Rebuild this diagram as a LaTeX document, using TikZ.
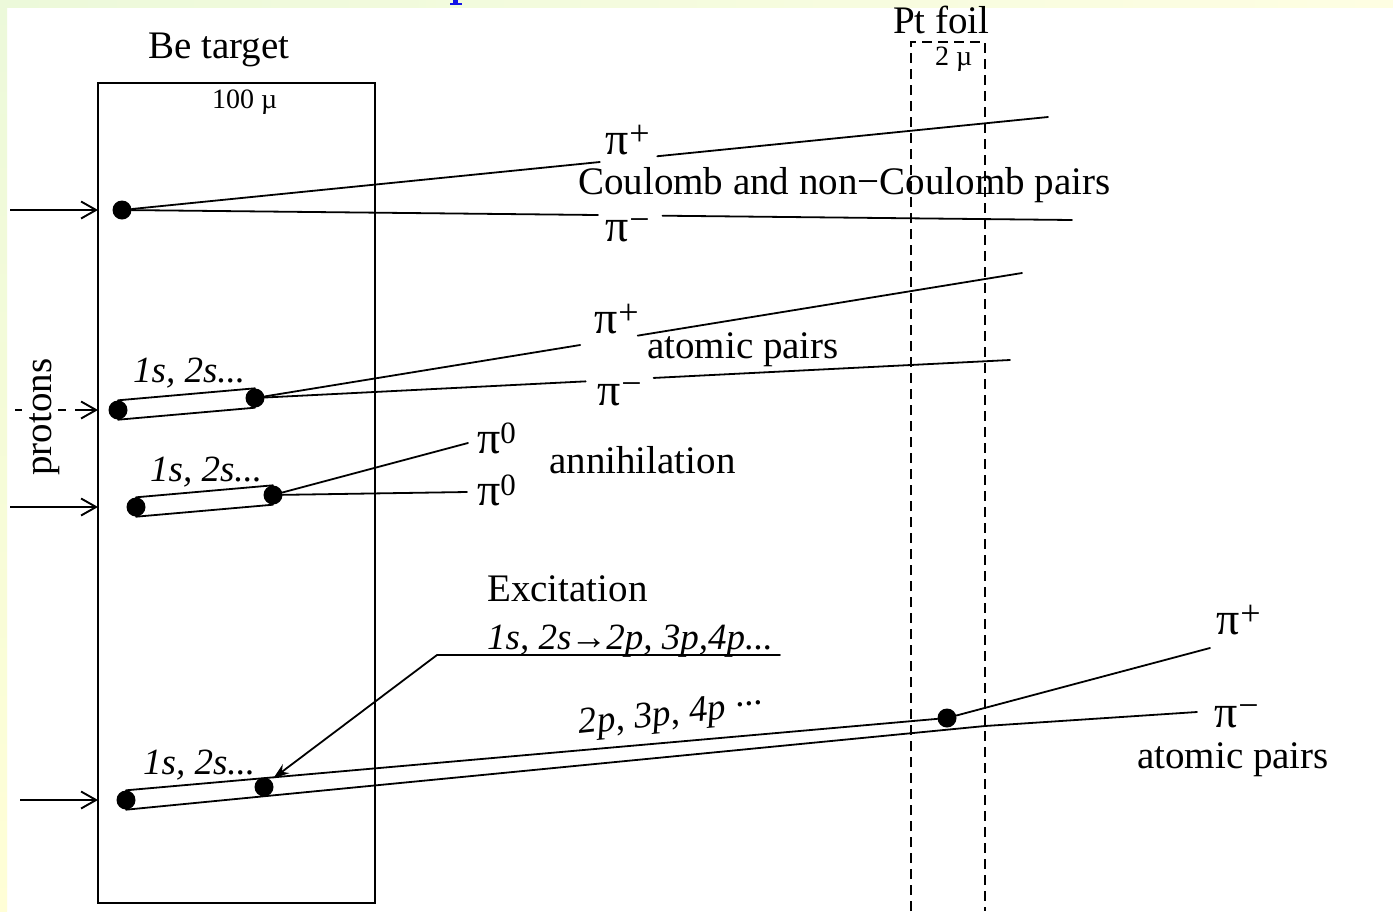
\documentclass[tikz,border=0pt]{standalone}
\usepackage{fontspec}
\setmainfont{Liberation Serif}
\usetikzlibrary{arrows.meta,calc}
\definecolor{stripG}{RGB}{236,249,218}
\definecolor{stripY}{RGB}{254,254,226}
\definecolor{stripY2}{RGB}{255,254,214}
\definecolor{linkblue}{RGB}{20,20,230}
\newcommand{\pipl}{π\kern1pt\raisebox{9pt}{\fontsize{36}{36}\selectfont+}}
\newcommand{\pimi}{π\kern1pt\raisebox{10pt}{\fontsize{36}{36}\selectfont−}}
\newcommand{\pize}{π\raisebox{10pt}{\fontsize{31}{31}\selectfont 0}}
\tikzset{
  trk/.style={line width=1.8pt, line cap=round},
  dotn/.style={circle, fill=black, inner sep=0pt, minimum size=19pt},
  lbl/.style={font=\fontsize{39}{41}\selectfont, inner sep=0pt, anchor=base west},
  small/.style={font=\fontsize{28}{30}\selectfont, inner sep=0pt, anchor=base west},
  ital/.style={font=\fontsize{37}{40}\selectfont\itshape, inner sep=0pt, anchor=base west},
  pil/.style={font=\fontsize{46}{46}\selectfont, inner sep=0pt, anchor=base west},
  beam/.style={line width=1.8pt, -{Straight Barb[length=15pt, width=17pt, line width=1.9pt]}},
  foil/.style={line width=1.5pt, dash pattern=on 10pt off 6pt},
}
\begin{document}
\begin{tikzpicture}[x=1pt, y=-1pt]
\useasboundingbox (0,0) rectangle (1393,911);
\fill[white] (0,0) rectangle (1393,911);
\shade[left color=stripG, right color=stripY] (0,0) rectangle (1393,7);
\shade[top color=stripG, bottom color=stripY2] (0,0) rectangle (7,911);
\fill[linkblue] (453,0) rectangle (458,4);
\fill[linkblue] (450,3) rectangle (462,5);

% Be target
\node[draw, line width=1.9pt, inner sep=0pt, outer sep=0pt, minimum width=277pt, minimum height=820pt, anchor=north west] (box) at (98,83) {};
\node[lbl] (bet) at (148,58) {Be target};
\node[small] (bew) at (212,108) {100 µ};

% Pt foil
\draw[foil] (911,911) -- (911,42) -- (985,42) -- (985,911);
\node[lbl] (ptf) at (893,33) {Pt foil};
\node[small] (ptw) at (935,65) {2 µ};

% protons
\node[font=\fontsize{39}{41}\selectfont, rotate=90, inner sep=0pt] (prot) at (45,417) {protons};

% dots
\node[dotn] (d1) at (122,210) {};
\node[dotn] (a2) at (118,410) {};
\node[dotn] (b2) at (255,398) {};
\node[dotn] (a3) at (136,507) {};
\node[dotn] (b3) at (273,495) {};
\node[dotn] (a4) at (126,800) {};
\node[dotn] (b4) at (264,787) {};
\node[dotn] (p4) at (947,718) {};

% beams
\coordinate (s1) at (10,210);
\coordinate (s2) at (15,410);
\coordinate (s3) at (10,507);
\coordinate (s4) at (20,800);
\draw[beam] (s1) -- (box.west |- d1);
\draw[beam, dash pattern=on 7pt off 36pt on 8pt off 9pt on 40pt off 0pt] (s2) -- (box.west |- a2);
\draw[beam] (s3) -- (box.west |- a3);
\draw[beam] (s4) -- (box.west |- a4);

% event 1: Coulomb pairs
\coordinate (e1p) at (1048,117);
\coordinate (e1m) at (1072,220);
\draw[trk] (d1) -- ($(d1)!0.516!(e1p)$);
\draw[trk] ($(d1)!0.578!(e1p)$) -- (e1p);
\draw[trk] (d1) -- ($(d1)!0.501!(e1m)$);
\draw[trk] ($(d1)!0.569!(e1m)$) -- (e1m);
\node[pil] (l1p) at (605,154) {\pipl};
\node[pil] (l1m) at (605,241) {\pimi};
\node[lbl] (coul) at (578,194) {Coulomb and non−Coulomb pairs};

% event 2: atomic pairs
\draw[trk] (a2.north) -- (b2.north);
\draw[trk] (a2.south) -- (b2.south);
\coordinate (e2p) at (1022,273);
\coordinate (e2m) at (1010,360);
\draw[trk] (b2) -- ($(b2)!0.424!(e2p)$);
\draw[trk] ($(b2)!0.499!(e2p)$) -- (e2p);
\draw[trk] (b2) -- ($(b2)!0.438!(e2m)$);
\draw[trk] ($(b2)!0.528!(e2m)$) -- (e2m);
\node[pil] (l2p) at (594,333) {\pipl};
\node[pil] (l2m) at (597,405) {\pimi};
\node[lbl] (atp) at (647,358) {atomic pairs};
\node[ital] (s2l) at (133,382) {1s, 2s...};

% event 3: annihilation
\draw[trk] (a3.north) -- (b3.north);
\draw[trk] (a3.south) -- (b3.south);
\coordinate (e3p) at (468,443);
\coordinate (e3m) at (467,492);
\draw[trk] (b3) -- (e3p);
\draw[trk] (b3) -- (e3m);
\node[pil] (l3p) at (477,453) {\pize};
\node[pil] (l3m) at (477,505) {\pize};
\node[lbl] (ann) at (549,473) {annihilation};
\node[ital] (s3l) at (150,481) {1s, 2s...};

% event 4: excitation
\coordinate (k4) at (985,726);
\coordinate (e4m) at (1197,712);
\coordinate (e4p) at (1210,648);
\draw[trk] (a4.north) -- (p4);
\draw[trk] (a4.south) -- (k4) -- (e4m);
\draw[trk] (p4) -- (e4p);
\node[pil] (l4p) at (1216,634) {\pipl};
\node[pil] (l4m) at (1214,727) {\pimi};
\node[lbl] (atp4) at (1137,768) {atomic pairs};
\node[ital] (s4l) at (143,774) {1s, 2s...};
\node[ital, anchor=center, rotate=6] (pl4) at (671,716) {2p, 3p, 4p ···};

\coordinate (ur) at (780,655);
\coordinate (ul) at (437,655);
\draw[trk, -{Stealth[length=16pt, width=11pt]}, shorten >=3pt] (ur) -- (ul) -- (b4.north east);
\node[lbl] (exc) at (487,601) {Excitation};
\node[ital] (exl) at (487,649) {1s, 2s\kern-1pt→\kern-1pt2p, 3p,4p...};
\end{tikzpicture}
\end{document}
